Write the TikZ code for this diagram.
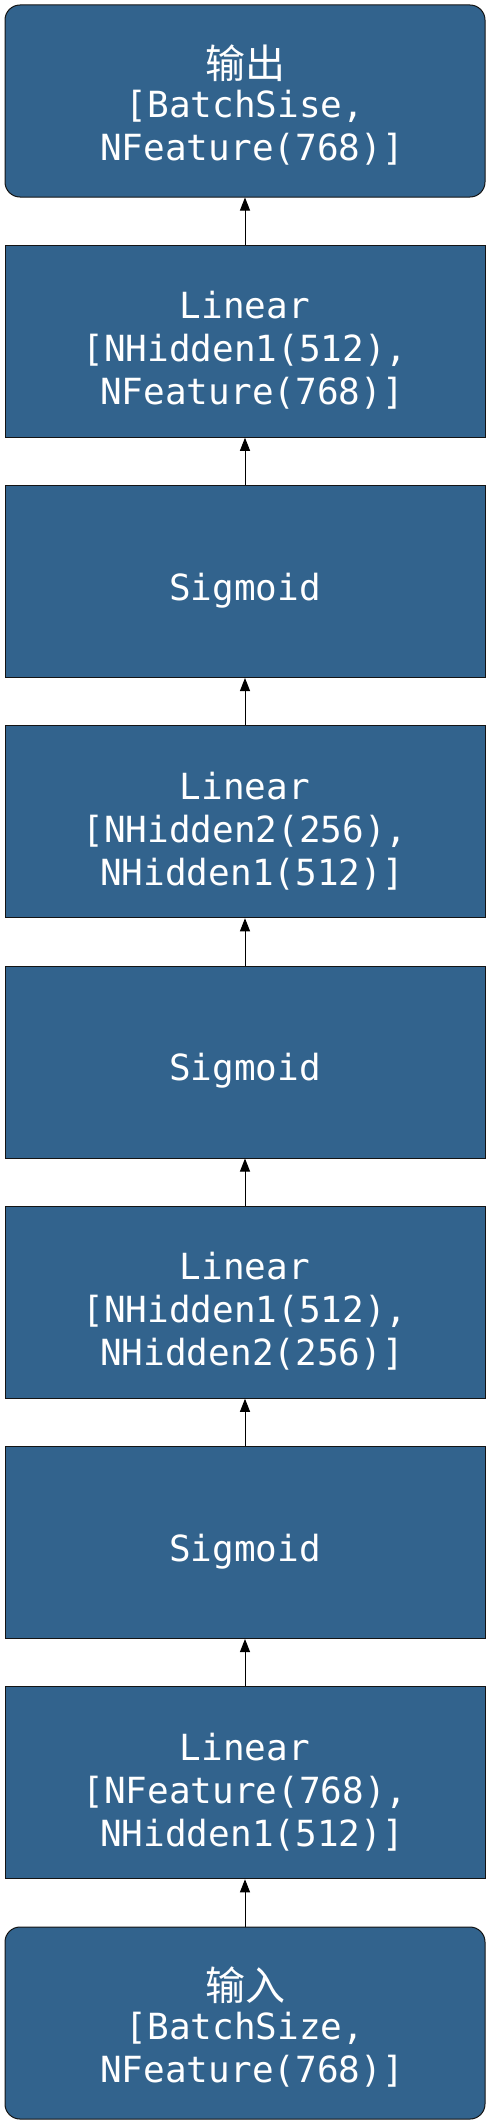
\documentclass[tikz,border=0pt]{standalone}
\usepackage{fontspec}
\newfontfamily\monof{DejaVu Sans Mono}
\newfontfamily\cjk{Noto Sans CJK SC}
\usetikzlibrary{arrows.meta}
\definecolor{boxfill}{RGB}{50,99,141}
\definecolor{boxline}{RGB}{20,20,20}
\tikzset{
  layer/.style={draw=boxline, line width=1pt, fill=boxfill, text=white,
    minimum width=480pt, minimum height=192pt, inner sep=0pt, align=center},
  endbox/.style={layer, rounded corners=15pt},
  label text/.style={text=white, inner sep=0pt, align=center, yshift=-9pt,
    font=\monof\fontsize{36}{43}\selectfont},
  flow/.style={draw=black, line width=1pt, -{Triangle[length=13pt,width=10pt]}}
}
\newcommand{\zh}[1]{{\cjk\fontsize{40}{43}\selectfont #1}}
\newcommand{\ind}{\hspace*{0.39em}}
\begin{document}
\begin{tikzpicture}[x=1pt,y=-1pt]
\useasboundingbox (0,0) rectangle (491,2125);
\node[endbox] (out) at (245,101) {};
\node[layer] (l4) at (245,341.25) {};
\node[layer] (s3) at (245,581.5) {};
\node[layer] (l3) at (245,821.75) {};
\node[layer] (s2) at (245,1062) {};
\node[layer] (l2) at (245,1302.25) {};
\node[layer] (s1) at (245,1542.5) {};
\node[layer] (l1) at (245,1782.75) {};
\node[endbox] (in) at (245,2023) {};
\node[label text, yshift=5pt] (outT) at (out.center) {\zh{输出}\\[-4pt]{[}BatchSise,\\\ind NFeature(768)]};
\node[label text] (l4T) at (l4.center) {Linear\\{[}NHidden1(512),\\\ind NFeature(768)]};
\node[label text] (s3T) at (s3.center) {Sigmoid};
\node[label text] (l3T) at (l3.center) {Linear\\{[}NHidden2(256),\\\ind NHidden1(512)]};
\node[label text] (s2T) at (s2.center) {Sigmoid};
\node[label text] (l2T) at (l2.center) {Linear\\{[}NHidden1(512),\\\ind NHidden2(256)]};
\node[label text] (s1T) at (s1.center) {Sigmoid};
\node[label text] (l1T) at (l1.center) {Linear\\{[}NFeature(768),\\\ind NHidden1(512)]};
\node[label text, yshift=5pt] (inT) at (in.center) {\zh{输入}\\[-4pt]{[}BatchSize,\\\ind NFeature(768)]};
\draw[flow] (in.north) -- (l1.south);
\draw[flow] (l1.north) -- (s1.south);
\draw[flow] (s1.north) -- (l2.south);
\draw[flow] (l2.north) -- (s2.south);
\draw[flow] (s2.north) -- (l3.south);
\draw[flow] (l3.north) -- (s3.south);
\draw[flow] (s3.north) -- (l4.south);
\draw[flow] (l4.north) -- (out.south);
\end{tikzpicture}
\end{document}
